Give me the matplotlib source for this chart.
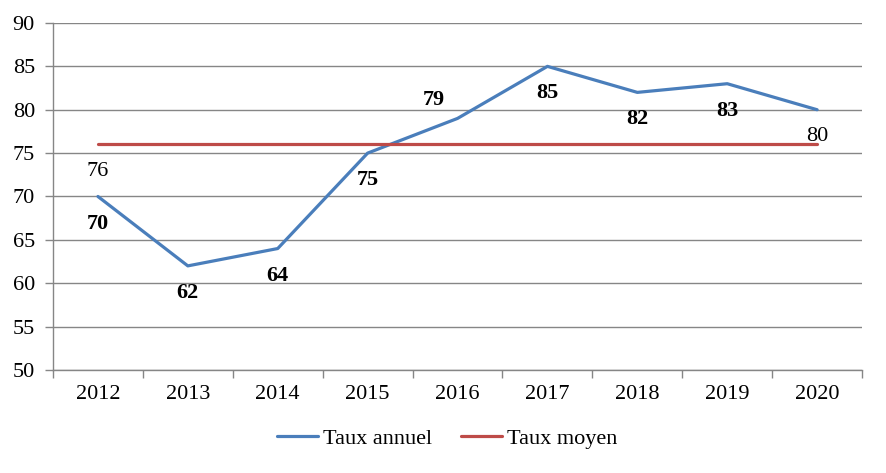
import matplotlib
matplotlib.use("Agg")
import matplotlib.pyplot as plt
from matplotlib.ticker import FixedLocator, NullFormatter

years = ["2012", "2013", "2014", "2015", "2016", "2017", "2018", "2019", "2020"]
taux_annuel = [70, 62, 64, 75, 79, 85, 82, 83, 80]
taux_moyen = [76] * 9
yticks = [50, 55, 60, 65, 70, 75, 80, 85, 90]

plt.rcParams['font.family'] = ['Liberation Serif', 'DejaVu Serif']
FS = 16
blue = "#4A7EBB"
red = "#BE4B48"
grid = "#868686"

fig = plt.figure(figsize=(8.86, 4.73), dpi=100)
ax = fig.add_axes([0.0598, 0.2178, 0.9132, 0.7336])
x = list(range(len(years)))

ax.plot(x, taux_annuel, color=blue, lw=2.3, label="Taux annuel", solid_capstyle="round", zorder=3)
ax.plot(x, taux_moyen, color=red, lw=2.3, label="Taux moyen", solid_capstyle="round", zorder=3)

ax.set_xlim(-0.5, len(years) - 0.5)
ax.set_ylim(50, 90)
ax.set_yticks(yticks)
ax.set_xticks(x)
ax.set_xticklabels(years, fontsize=FS)
ax.tick_params(axis='x', which='major', length=0, pad=11)
ax.xaxis.set_minor_locator(FixedLocator([i - 0.5 for i in range(len(years) + 1)]))
ax.xaxis.set_minor_formatter(NullFormatter())
ax.tick_params(axis='x', which='minor', length=6, color=grid, width=1, direction='out')
ax.tick_params(axis='y', labelsize=FS, length=6, color=grid, width=1, pad=7)
ax.grid(axis='y', color=grid, lw=1)
ax.set_axisbelow(True)
for s in ['top', 'right']:
    ax.spines[s].set_visible(False)
for s in ['left', 'bottom']:
    ax.spines[s].set_color(grid)
    ax.spines[s].set_linewidth(1)

# data labels
for i, v in enumerate(taux_annuel):
    if i == 4:
        ax.annotate(str(v), (i, v), xytext=(-17, 13), textcoords='offset points',
                    ha='center', va='center', fontsize=FS, fontweight='bold')
    elif i == 8:
        ax.annotate(str(v), (i, v), xytext=(0, -19.5), textcoords='offset points',
                    ha='center', va='center', fontsize=FS)
    else:
        ax.annotate(str(v), (i, v), xytext=(0, -19.5), textcoords='offset points',
                    ha='center', va='center', fontsize=FS, fontweight='bold')
ax.annotate(str(taux_moyen[0]), (0, taux_moyen[0]), xytext=(0, -19.5), textcoords='offset points',
            ha='center', va='center', fontsize=FS)

fig.legend(loc='center', bbox_to_anchor=(0.505, 0.073), ncol=2, frameon=False,
           fontsize=FS, handlelength=1.85, handletextpad=0.22, columnspacing=1.3)

fig.savefig("out.png", dpi=100)
